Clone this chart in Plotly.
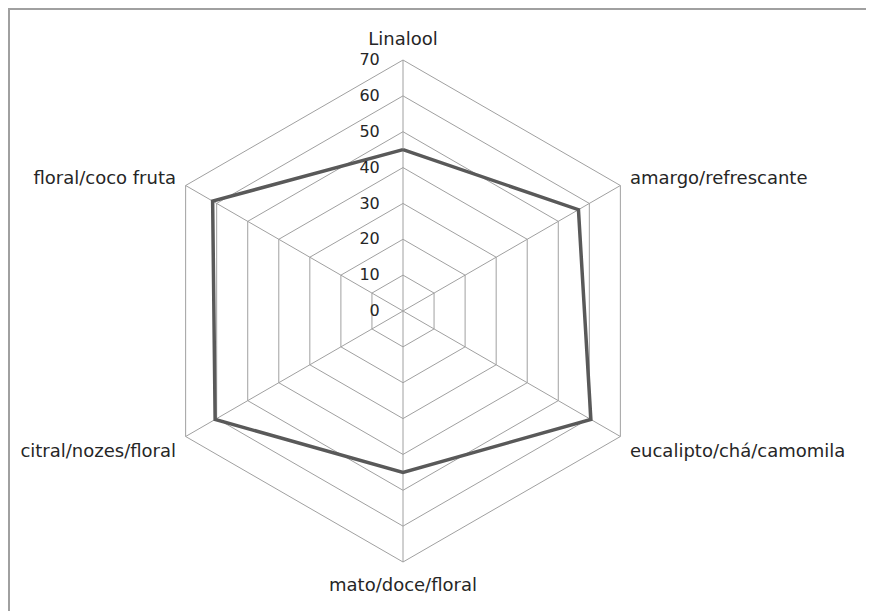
import plotly.graph_objects as go

# aroma profile, values (0-70 scale)
categories = ['Linalool', 'amargo/refrescante', 'eucalipto/chá/camomila',
              'mato/doce/floral', 'citral/nozes/floral', 'floral/coco fruta']
values = [45, 56.5, 60.5, 45, 60.5, 61.3]
radial_ticks = [0, 10, 20, 30, 40, 50, 60, 70]

grid_col = '#a0a0a0'
font_fam = 'DejaVu Sans'

fig = go.Figure()
fig.add_trace(go.Scatterpolar(
    r=values + values[:1],
    theta=categories + categories[:1],
    mode='lines',
    line=dict(color='#595959', width=3.5),
    showlegend=False,
))

# the page body adds 8px, so the figure is 8px smaller and shifted
W, H = 866, 603
L, R, T, B = 144, 220, 52, 49
pw, ph = W - L - R, H - T - B

pad = '\u00a0' * 4
fig.update_layout(
    width=W, height=H,
    margin=dict(l=L, r=R, t=T, b=B),
    paper_bgcolor='white',
    plot_bgcolor='white',
    font=dict(family=font_fam, size=16, color='#262626'),
    polar=dict(
        bgcolor='white',
        gridshape='linear',
        domain=dict(x=[0, 1], y=[0, 1]),
        angularaxis=dict(
            direction='clockwise', rotation=90,
            linecolor=grid_col, gridcolor=grid_col, gridwidth=1,
            showline=True, linewidth=1,
            ticks='outside', ticklen=7, tickcolor='rgba(0,0,0,0)',
            tickfont=dict(family=font_fam, size=18, color='#262626'),
        ),
        radialaxis=dict(
            range=[0, 70], tickvals=radial_ticks,
            ticktext=[f'{v}{pad}' for v in radial_ticks],
            angle=90, tickangle=90, side='counterclockwise',
            showline=False, gridcolor=grid_col, gridwidth=1, ticks='',
            tickfont=dict(family=font_fam, size=16, color='#262626'),
        ),
    ),
    shapes=[dict(
        type='rect', xref='paper', yref='paper',
        x0=(1 - L) / pw, x1=(W + 20 - L) / pw,
        y0=-(B + 20) / ph, y1=1 + (T - 1) / ph,
        line=dict(color=grid_col, width=2), fillcolor='rgba(0,0,0,0)',
        layer='below',
    )],
)

fig.write_html('out.html')
